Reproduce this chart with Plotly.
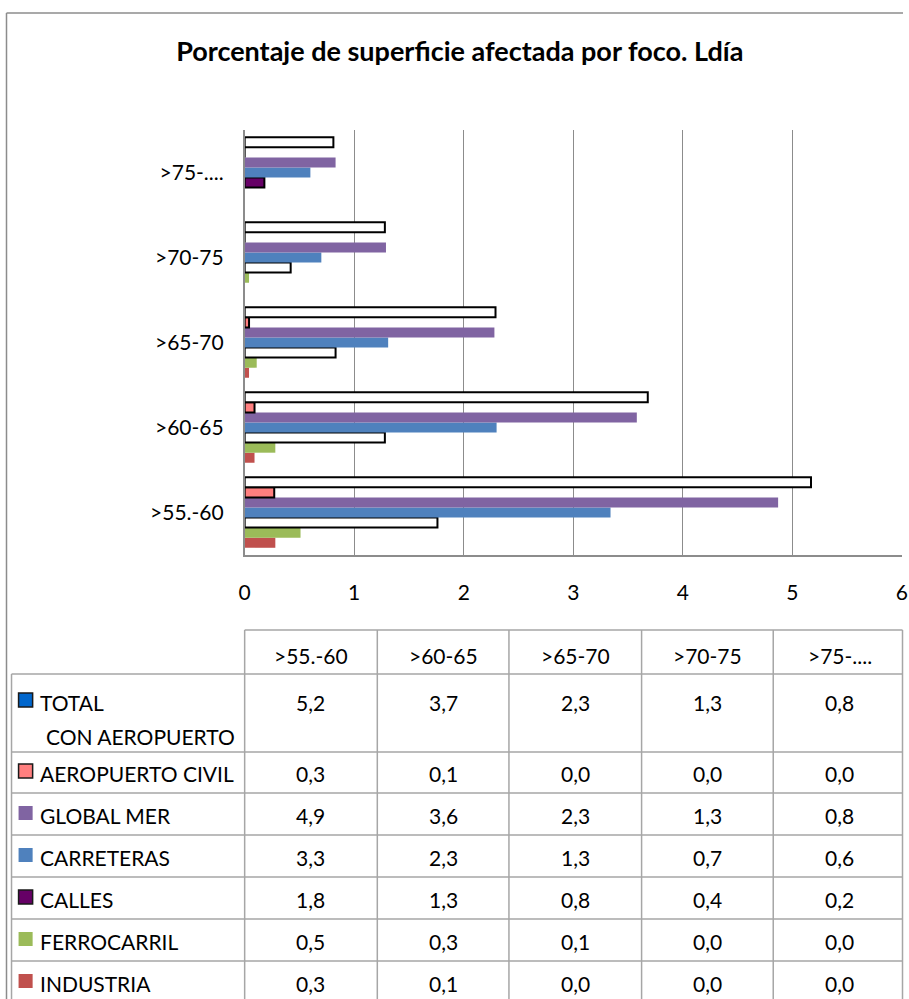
import plotly.graph_objects as go

W, H = 909, 999

categories = [">55.-60", ">60-65", ">65-70", ">70-75", ">75-...."]

total = [5.17, 3.68, 2.29, 1.28, 0.81]
aeropuerto = [0.27, 0.09, 0.04, 0.0, 0.0]
global_mer = [4.87, 3.58, 2.28, 1.29, 0.83]
carreteras = [3.34, 2.30, 1.31, 0.70, 0.60]
calles = [1.76, 1.28, 0.83, 0.42, 0.18]
ferrocarril = [0.51, 0.28, 0.11, 0.04, 0.0]
industria = [0.28, 0.09, 0.04, 0.0, 0.0]

x_ticks = [0, 1, 2, 3, 4, 5, 6]

FONT = "Lato"
GRID = "#8C8C8C"
TLINE = "#A6A6A6"
FS = 21


def px(x):
    # map a target screen x to paper coordinate (compensates page scaling)
    v = (x - 7.5) / 0.982
    v = min(max(v, 0.5), W - 0.5)
    return v / W


def py(y):
    return 1 - y / H


fig = go.Figure()

bar_specs = [
    (industria, "#C0504D", None, 0),
    (ferrocarril, "#9BBB59", None, 0),
    (calles, ["white", "white", "white", "white", "#660066"], "black", 2),
    (carreteras, "#4F81BD", None, 0),
    (global_mer, "#8064A2", None, 0),
    (aeropuerto, "#FF7F7F", "black", 2),
    (total, "white", "black", 2),
]
for vals, col, lcol, lw in bar_specs:
    fig.add_trace(go.Bar(
        y=categories, x=vals, orientation="h",
        marker=dict(color=col, line=dict(color=lcol or "rgba(0,0,0,0)", width=lw)),
        showlegend=False, hoverinfo="x+y",
    ))

fig.update_layout(
    width=W, height=H, autosize=False,
    margin=dict(l=0, r=0, t=0, b=0),
    paper_bgcolor="white", plot_bgcolor="white",
    barmode="group", bargap=0.17, bargroupgap=0,
    font=dict(family=FONT, size=FS, color="black"),
    xaxis=dict(
        domain=[px(245), 1.0 - 1.0 / W], range=[0, 6.001], tickvals=x_ticks,
        showgrid=True, gridcolor=GRID, gridwidth=1.3,
        showline=True, linecolor=GRID, linewidth=1.5,
        zeroline=False, ticks="", ticklabelstandoff=18,
        ticklabeloverflow="allow",
        tickfont=dict(size=FS), fixedrange=True,
    ),
    yaxis=dict(
        domain=[py(555), py(130)],
        showline=True, linecolor=GRID, linewidth=1.5,
        showgrid=False, ticks="", ticklabelstandoff=15,
        tickfont=dict(size=FS), fixedrange=True,
    ),
    title=dict(
        text="<b>Porcentaje de superficie afectada por foco. Ldía</b>",
        x=px(459), xanchor="center", y=py(52), yanchor="middle",
        font=dict(family=FONT, size=27, color="black"),
    ),
)

shapes = []
shapes.append(dict(type="line", xref="paper", yref="paper",
                   x0=px(8), x1=1.0, y0=py(13), y1=py(13),
                   line=dict(color="#8C8C8C", width=1.5)))
shapes.append(dict(type="line", xref="paper", yref="paper",
                   x0=px(8), x1=px(8), y0=py(13), y1=py(999),
                   line=dict(color="#8C8C8C", width=1.5)))

col_x = [245, 377, 508, 640, 771, 903]
row_y = [674, 752, 793, 835, 877, 919, 961, 1003]
TL = 13
shapes.append(dict(type="line", xref="paper", yref="paper",
                   x0=px(col_x[0]), x1=px(col_x[-1]), y0=py(630), y1=py(630),
                   line=dict(color=TLINE, width=1.5)))
for yy in row_y:
    shapes.append(dict(type="line", xref="paper", yref="paper",
                       x0=px(TL), x1=px(col_x[-1]), y0=py(yy), y1=py(yy),
                       line=dict(color=TLINE, width=1.5)))
for xx in col_x:
    shapes.append(dict(type="line", xref="paper", yref="paper",
                       x0=px(xx), x1=px(xx), y0=py(630), y1=py(1005),
                       line=dict(color=TLINE, width=1.5)))
shapes.append(dict(type="line", xref="paper", yref="paper",
                   x0=px(TL), x1=px(TL), y0=py(674), y1=py(1005),
                   line=dict(color=TLINE, width=1.5)))

annotations = []
for i, c in enumerate(categories):
    cx = (col_x[i] + col_x[i + 1]) / 2
    annotations.append(dict(xref="paper", yref="paper", x=px(cx), y=py(655),
                            text=c, showarrow=False, xanchor="center", yanchor="middle",
                            font=dict(size=FS)))

table_rows = [
    ("TOTAL", "#0066CC", True, total),
    ("AEROPUERTO CIVIL", "#FF7F7F", True, aeropuerto),
    ("GLOBAL MER", "#8064A2", False, global_mer),
    ("CARRETERAS", "#4F81BD", False, carreteras),
    ("CALLES", "#660066", True, calles),
    ("FERROCARRIL", "#9BBB59", False, ferrocarril),
    ("INDUSTRIA", "#C0504D", False, industria),
]
row_centers = [702, 773, 815, 857, 899, 941, 983]
for (name, col, border, vals), yc in zip(table_rows, row_centers):
    shapes.append(dict(type="rect", xref="paper", yref="paper",
                       x0=px(20), x1=px(34), y0=py(yc - 9), y1=py(yc + 5),
                       fillcolor=col,
                       line=dict(color="#1a1a1a" if border else col, width=1.5 if border else 0)))
    annotations.append(dict(xref="paper", yref="paper", x=px(39), y=py(yc),
                            text=name, showarrow=False, xanchor="left", yanchor="middle",
                            font=dict(size=FS)))
    for i, v in enumerate(vals):
        cx = (col_x[i] + col_x[i + 1]) / 2
        annotations.append(dict(xref="paper", yref="paper", x=px(cx), y=py(yc),
                                text=f"{v:.1f}".replace(".", ","), showarrow=False,
                                xanchor="center", yanchor="middle", font=dict(size=FS)))
annotations.append(dict(xref="paper", yref="paper", x=px(45), y=py(736),
                        text="CON AEROPUERTO", showarrow=False, xanchor="left",
                        yanchor="middle", font=dict(size=FS)))

fig.update_layout(shapes=shapes, annotations=annotations)

fig.write_html("out.html", config={"displayModeBar": False})
